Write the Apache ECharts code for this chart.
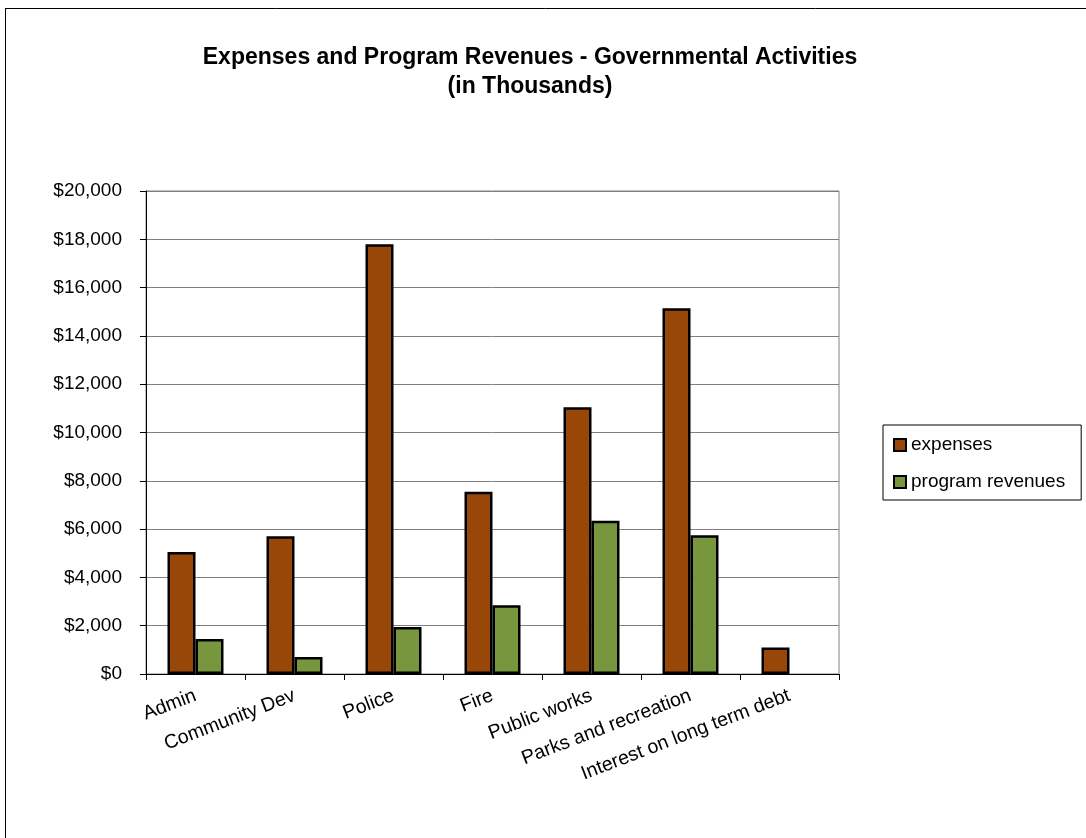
<!DOCTYPE html>
<html>
<head>
<meta charset="utf-8">
<script src="https://cdn.jsdelivr.net/npm/echarts@6/dist/echarts.min.js"></script>
<style>
  html, body { margin: 0; padding: 0; background: #fff; }
  #chart { width: 1086px; height: 838px; }
</style>
</head>
<body>
<div id="chart"></div>
<script>
// Governmental activities, in thousands of dollars
const categories = ['Admin', 'Community Dev', 'Police', 'Fire', 'Public works', 'Parks and recreation', 'Interest on long term debt'];
const expenses = [5050, 5700, 17800, 7550, 11050, 15150, 1100];
const programRevenues = [1450, 700, 1950, 2850, 6350, 5750, null];
const seriesNames = ['expenses', 'program revenues'];
const yTicks = [0, 2000, 4000, 6000, 8000, 10000, 12000, 14000, 16000, 18000, 20000];

const FONT = 'Arial, "Liberation Sans", sans-serif';
const money = v => '$' + v.toLocaleString('en-US');

const chart = echarts.init(document.getElementById('chart'), null, { renderer: 'canvas' });
chart.setOption({
  animation: false,
  backgroundColor: '#fff',
  title: {
    text: 'Expenses and Program Revenues - Governmental Activities\n(in Thousands)',
    left: 525,
    textAlign: 'center',
    top: 38,
    textStyle: { fontFamily: FONT, fontSize: 23, fontWeight: 'bold', color: '#000', lineHeight: 29 }
  },
  legend: {
    orient: 'vertical',
    left: 883,
    top: 425,
    padding: [10, 16, 8, 10],
    itemGap: 17,
    itemWidth: 12,
    itemHeight: 12,
    itemTextGap: 3,
    icon: 'rect',
    borderColor: '#000',
    borderWidth: 1,
    textStyle: { fontFamily: FONT, fontSize: 19, color: '#000', lineHeight: 20 },
    data: seriesNames
  },
  grid: { left: 146, right: 247, top: 191, bottom: 164, show: true, borderColor: '#808080', borderWidth: 1 },
  xAxis: {
    type: 'category',
    data: categories,
    axisLine: { lineStyle: { color: '#000', width: 1 } },
    axisTick: { show: true, alignWithLabel: false, length: 6, lineStyle: { color: '#000' } },
    axisLabel: { rotate: 21, margin: 21, interval: 0, fontFamily: FONT, fontSize: 19.5, color: '#000' }
  },
  yAxis: {
    type: 'value',
    min: yTicks[0],
    max: yTicks[yTicks.length - 1],
    interval: yTicks[1] - yTicks[0],
    axisLine: { show: true, lineStyle: { color: '#000', width: 1 } },
    axisTick: { show: true, length: 6, lineStyle: { color: '#000' } },
    splitLine: { lineStyle: { color: '#808080', width: 1 } },
    axisLabel: { margin: 24, fontFamily: FONT, fontSize: 19, color: '#000', formatter: money }
  },
  series: [
    {
      name: seriesNames[0],
      type: 'bar',
      data: expenses,
      barWidth: 28,
      barGap: '0%',
      itemStyle: { color: '#994709', borderColor: '#000', borderWidth: 2.5 }
    },
    {
      name: seriesNames[1],
      type: 'bar',
      data: programRevenues,
      barWidth: 28,
      barGap: '0%',
      itemStyle: { color: '#78963D', borderColor: '#000', borderWidth: 2.5 }
    }
  ],
  graphic: [
    { type: 'line', silent: true, shape: { x1: 5.5, y1: 8, x2: 5.5, y2: 838 }, style: { stroke: '#000', lineWidth: 1 } },
    { type: 'line', silent: true, shape: { x1: 5, y1: 8.5, x2: 1086, y2: 8.5 }, style: { stroke: '#000', lineWidth: 1 } }
  ]
});
</script>
</body>
</html>
